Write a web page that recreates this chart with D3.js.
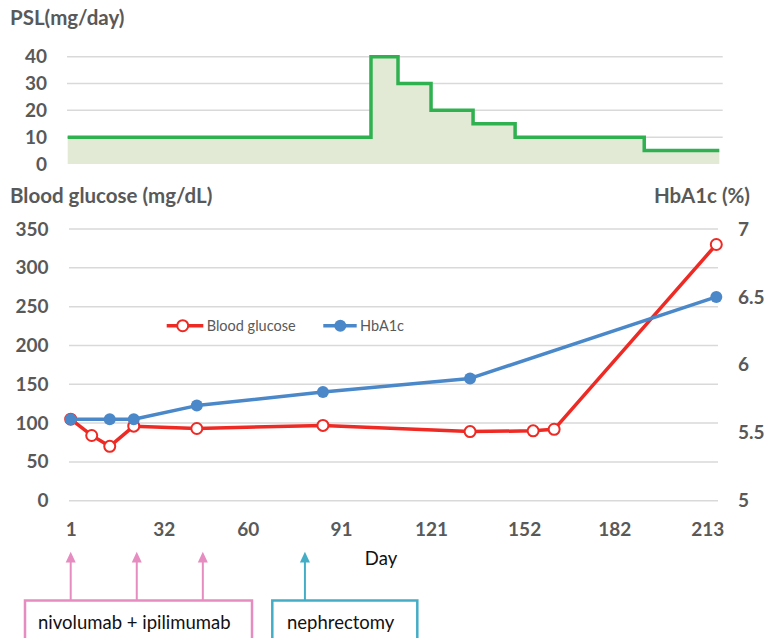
<!DOCTYPE html>
<html>
<head>
<meta charset="utf-8">
<script src="https://cdn.jsdelivr.net/npm/d3@7"></script>
<style>
  body { margin: 0; background: #fff; }
  svg text { font-family: Lato, "Open Sans", sans-serif; }
</style>
</head>
<body>
<svg id="chart" width="766" height="638"></svg>
<script>
// PSL dose steps (day the dose starts, mg/day)
const pslDays = [0, 101, 110, 121, 135, 149, 192, 217];
const pslDose = [10, 40, 30, 20, 15, 10, 5, 5];

// Blood glucose (mg/dL)
const glucoseDays = [1, 8, 14, 22, 43, 85, 134, 155, 162, 216];
const glucoseValues = [105, 84, 70, 96, 93, 97, 89, 90, 92, 330];

// HbA1c (%)
const hba1cDays = [1, 14, 22, 43, 85, 134, 216];
const hba1cValues = [5.6, 5.6, 5.6, 5.7, 5.8, 5.9, 6.5];

// Tick labels
const dayTicks = [1, 32, 60, 91, 121, 152, 182, 213];
const pslTicks = [0, 10, 20, 30, 40];
const glucoseTicks = [0, 50, 100, 150, 200, 250, 300, 350];
const hba1cTicks = [5, 5.5, 6, 6.5, 7];

// Treatment events
const immunoDays = [1, 23, 45];
const surgeryDays = [79];

const grey = "#595959";
const gridColor = "#d9d9d9";
const red = "#ee2a24";
const blue = "#4a88c9";
const green = "#2fb14f";
const pink = "#e68cc0";
const teal = "#44adc6";
const tickSize = 19;
const titleSize = 20.5;

const svg = d3.select("#chart");

const x = d3.scaleLinear().domain([0, 217]).range([67.7, 719.3]);
const yPsl = d3.scaleLinear().domain([0, 40]).range([164, 56.7]);
const yGlu = d3.scaleLinear().domain([0, 350]).range([500.7, 229]);
const yHb = d3.scaleLinear().domain([5, 7]).range([500.7, 229]);

function styleTicks(g) {
    g.select(".domain").remove();
    g.selectAll("text")
        .attr("font-size", tickSize).attr("font-weight", "bold")
        .attr("fill", grey).attr("font-family", "Lato, sans-serif");
}

// ---------- PSL panel ----------
svg.append("text")
    .attr("x", 10).attr("y", 25)
    .attr("font-size", titleSize).attr("font-weight", "bold")
    .attr("fill", grey)
    .text("PSL(mg/day)");

svg.append("g")
    .selectAll("line")
    .data(pslTicks.filter(d => d > 0))
    .join("line")
    .attr("x1", 67).attr("x2", 722.7)
    .attr("y1", d => yPsl(d)).attr("y2", d => yPsl(d))
    .attr("stroke", gridColor).attr("stroke-width", 1.5);

const pslData = pslDays.map((d, i) => ({ day: d, dose: pslDose[i] }));

svg.append("path")
    .datum(pslData)
    .attr("fill", "#e2ead6")
    .attr("d", d3.area()
        .x(d => x(d.day))
        .y0(yPsl(0))
        .y1(d => yPsl(d.dose))
        .curve(d3.curveStepAfter));

svg.append("path")
    .datum(pslData)
    .attr("fill", "none")
    .attr("stroke", green)
    .attr("stroke-width", 3.5)
    .attr("d", d3.line()
        .x(d => x(d.day))
        .y(d => yPsl(d.dose))
        .curve(d3.curveStepAfter));

svg.append("g")
    .attr("transform", "translate(47,0)")
    .call(d3.axisLeft(yPsl).tickValues(pslTicks).tickSize(0).tickPadding(0))
    .call(styleTicks);

// ---------- Glucose / HbA1c panel ----------
svg.append("text")
    .attr("x", 10).attr("y", 203)
    .attr("font-size", titleSize).attr("font-weight", "bold")
    .attr("fill", grey)
    .text("Blood glucose (mg/dL)");

svg.append("text")
    .attr("x", 750).attr("y", 203)
    .attr("text-anchor", "end")
    .attr("font-size", titleSize).attr("font-weight", "bold")
    .attr("fill", grey)
    .text("HbA1c (%)");

svg.append("g")
    .selectAll("line")
    .data(glucoseTicks)
    .join("line")
    .attr("x1", 69).attr("x2", 718)
    .attr("y1", d => yGlu(d)).attr("y2", d => yGlu(d))
    .attr("stroke", gridColor).attr("stroke-width", 1.5);

svg.append("g")
    .attr("transform", "translate(48.5,0)")
    .call(d3.axisLeft(yGlu).tickValues(glucoseTicks).tickSize(0).tickPadding(0))
    .call(styleTicks);

svg.append("g")
    .attr("transform", "translate(738,0)")
    .call(d3.axisRight(yHb).tickValues(hba1cTicks).tickSize(0).tickPadding(0).tickFormat(d3.format("")))
    .call(styleTicks);

svg.append("g")
    .attr("transform", "translate(0,529)")
    .call(d3.axisBottom(x).tickValues(dayTicks).tickSize(0).tickPadding(0))
    .call(styleTicks)
    .call(g => g.selectAll("text").attr("dy", "0.35em"));

svg.append("text")
    .attr("x", 381).attr("y", 565)
    .attr("text-anchor", "middle")
    .attr("font-size", 18.5)
    .attr("fill", "#111")
    .text("Day");

const glucose = glucoseDays.map((d, i) => ({ day: d, value: glucoseValues[i] }));
const hba1c = hba1cDays.map((d, i) => ({ day: d, value: hba1cValues[i] }));

svg.append("path")
    .datum(glucose)
    .attr("fill", "none")
    .attr("stroke", red)
    .attr("stroke-width", 3.5)
    .attr("stroke-linejoin", "round")
    .attr("d", d3.line().x(d => x(d.day)).y(d => yGlu(d.value)));

svg.append("g")
    .selectAll("circle")
    .data(glucose)
    .join("circle")
    .attr("cx", d => x(d.day))
    .attr("cy", d => yGlu(d.value))
    .attr("r", 5.5)
    .attr("fill", "#fff")
    .attr("stroke", red)
    .attr("stroke-width", 2);

svg.append("path")
    .datum(hba1c)
    .attr("fill", "none")
    .attr("stroke", blue)
    .attr("stroke-width", 3.5)
    .attr("stroke-linejoin", "round")
    .attr("d", d3.line().x(d => x(d.day)).y(d => yHb(d.value)));

svg.append("g")
    .selectAll("circle")
    .data(hba1c)
    .join("circle")
    .attr("cx", d => x(d.day))
    .attr("cy", d => yHb(d.value))
    .attr("r", 6)
    .attr("fill", blue);

// Legend
const legend = svg.append("g").attr("transform", "translate(0,325.7)");
legend.append("line")
    .attr("x1", 166.7).attr("x2", 203.3)
    .attr("stroke", red).attr("stroke-width", 3.5);
legend.append("circle")
    .attr("cx", 182.7).attr("r", 5.5)
    .attr("fill", "#fff").attr("stroke", red).attr("stroke-width", 2);
legend.append("text")
    .attr("x", 206.7).attr("dy", "0.35em")
    .attr("font-size", 14.5).attr("fill", grey)
    .text("Blood glucose");
legend.append("line")
    .attr("x1", 323.3).attr("x2", 356.7)
    .attr("stroke", blue).attr("stroke-width", 3.5);
legend.append("circle")
    .attr("cx", 340.3).attr("r", 6)
    .attr("fill", blue);
legend.append("text")
    .attr("x", 360).attr("dy", "0.35em")
    .attr("font-size", 14.5).attr("fill", grey)
    .text("HbA1c");

// ---------- Treatment annotations ----------
function drawArrows(days, color) {
    const g = svg.append("g");
    g.selectAll("line")
        .data(days)
        .join("line")
        .attr("x1", d => x(d)).attr("x2", d => x(d))
        .attr("y1", 600).attr("y2", 560)
        .attr("stroke", color).attr("stroke-width", 2);
    g.selectAll("path")
        .data(days)
        .join("path")
        .attr("d", d => `M${x(d)},551.7L${x(d) + 5},562.5L${x(d) - 5},562.5Z`)
        .attr("fill", color);
}
drawArrows(immunoDays, pink);
drawArrows(surgeryDays, teal);

svg.append("rect")
    .attr("x", 25).attr("y", 600.5)
    .attr("width", 227).attr("height", 60)
    .attr("fill", "none").attr("stroke", pink).attr("stroke-width", 2.5);
svg.append("text")
    .attr("x", 38).attr("y", 628.5)
    .attr("font-size", 18.5).attr("fill", "#111")
    .text("nivolumab + ipilimumab");

svg.append("rect")
    .attr("x", 272.3).attr("y", 600.5)
    .attr("width", 145).attr("height", 60)
    .attr("fill", "none").attr("stroke", teal).attr("stroke-width", 2.5);
svg.append("text")
    .attr("x", 287).attr("y", 628.5)
    .attr("font-size", 18.5).attr("fill", "#111")
    .text("nephrectomy");
</script>
</body>
</html>
